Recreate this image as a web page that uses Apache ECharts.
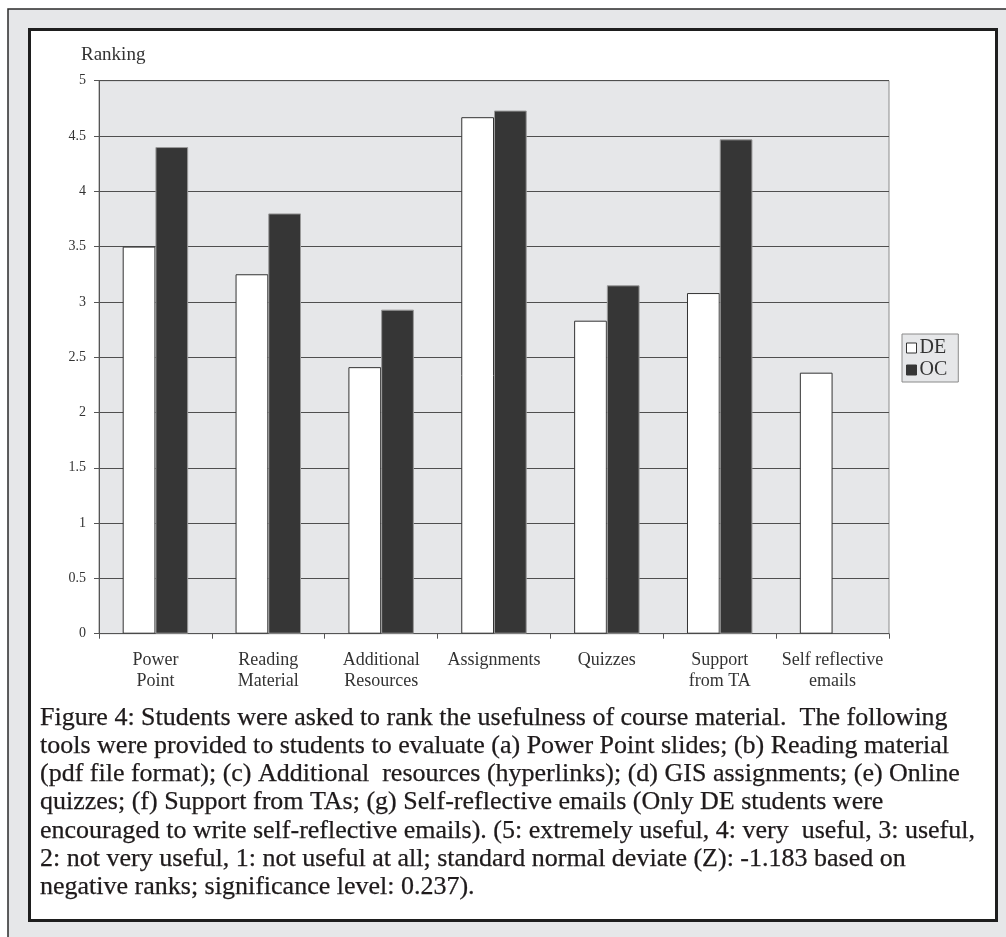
<!DOCTYPE html>
<html>
<head>
<meta charset="utf-8">
<script src="https://cdn.jsdelivr.net/npm/echarts@6/dist/echarts.min.js"></script>
<style>
html,body{margin:0;padding:0;background:#fff;}
#chart{width:1006px;height:937px;}
</style>
</head>
<body>
<div id="chart"></div>
<script>
// ---- data ----
var categories = ["Power\nPoint", "Reading\nMaterial", "Additional\nResources", "Assignments", "Quizzes", "Support\nfrom TA", "Self reflective\nemails"];
var seriesNames = ["DE", "OC"];
var deValues = [3.5, 3.25, 2.41, 4.67, 2.83, 3.08, 2.36];
var ocValues = [4.4, 3.8, 2.93, 4.73, 3.15, 4.47, null];
var yTicks = { min: 0, max: 5, interval: 0.5 };
var yAxisTitle = "Ranking";
var captionLines = [
  "Figure 4: Students were asked to rank the usefulness of course material.  The following",
  "tools were provided to students to evaluate (a) Power Point slides; (b) Reading material",
  "(pdf file format); (c) Additional  resources (hyperlinks); (d) GIS assignments; (e) Online",
  "quizzes; (f) Support from TAs; (g) Self-reflective emails (Only DE students were",
  "encouraged to write self-reflective emails). (5: extremely useful, 4: very  useful, 3: useful,",
  "2: not very useful, 1: not useful at all; standard normal deviate (Z): -1.183 based on",
  "negative ranks; significance level: 0.237)."
];

var FONT = "Liberation Serif";
var chart = echarts.init(document.getElementById('chart'), null, {renderer: 'canvas'});

var graphics = [
  { type: 'rect', z: -100, shape: { x: 8, y: 9, width: 1010, height: 940 },
    style: { fill: '#e6e7e9', stroke: '#2b2b2b', lineWidth: 1.5 } },
  { type: 'rect', z: -99, shape: { x: 29.5, y: 29.5, width: 967, height: 891 },
    style: { fill: '#ffffff', stroke: '#1e1e1e', lineWidth: 3 } }
];
captionLines.forEach(function (line, i) {
  graphics.push({
    type: 'text', z: 10, x: 40, y: 718 + i * 28.2,
    style: { text: line, fontFamily: FONT, fontSize: 26, fill: '#1e1a1b',
             stroke: '#1e1a1b', lineWidth: 0.25,
             verticalAlign: 'middle', align: 'left' }
  });
});

var option = {
  animation: false,
  backgroundColor: '#ffffff',
  title: {
    text: yAxisTitle, left: 81, top: 45, padding: 0,
    textStyle: { fontFamily: FONT, fontSize: 19, fontWeight: 'normal', color: '#333', lineHeight: 20 }
  },
  legend: {
    orient: 'vertical', left: 902, top: 334,
    padding: [4, 11, 2, 4], itemGap: 2, itemWidth: 10, itemHeight: 10,
    backgroundColor: '#e6e7e9', borderColor: '#8a8a8a', borderWidth: 1, borderRadius: 0,
    icon: 'rect',
    data: [
      { name: seriesNames[0], itemStyle: { color: '#ffffff', borderColor: '#333', borderWidth: 1 } },
      { name: seriesNames[1], itemStyle: { color: '#363636', borderColor: '#363636', borderWidth: 1 } }
    ],
    textStyle: { fontFamily: FONT, fontSize: 20, color: '#333', lineHeight: 20, padding: [0,0,0,-2] }
  },
  grid: {
    left: 99, right: 117, top: 80.7, bottom: 303.3,
    show: true, backgroundColor: '#e6e7e9', borderColor: '#8c8c8c', borderWidth: 1,
    containLabel: false
  },
  xAxis: {
    type: 'category', data: categories,
    axisLine: { show: true, lineStyle: { color: '#555', width: 1 } },
    axisTick: { show: true, alignWithLabel: false, length: 5, lineStyle: { color: '#555' } },
    axisLabel: { interval: 0, margin: 16, fontFamily: FONT, fontSize: 18, color: '#333', lineHeight: 21 },
    splitLine: { show: false }
  },
  yAxis: {
    type: 'value', min: yTicks.min, max: yTicks.max, interval: yTicks.interval,
    axisLine: { show: true, lineStyle: { color: '#555', width: 1 } },
    axisTick: { show: true, inside: false, length: 5, lineStyle: { color: '#555' } },
    axisLabel: { margin: 13, fontFamily: FONT, fontSize: 14, color: '#333' },
    splitLine: { show: true, lineStyle: { color: '#4f4f4f', width: 1 } }
  },
  series: [
    { name: seriesNames[0], type: 'bar', data: deValues, barGap: '0%', barCategoryGap: '42%',
      itemStyle: { color: '#ffffff', borderColor: '#333', borderWidth: 1 } },
    { name: seriesNames[1], type: 'bar', data: ocValues, barGap: '0%', barCategoryGap: '42%',
      itemStyle: { color: '#363636', borderColor: '#9a9a9a', borderWidth: 1 } }
  ],
  graphic: graphics
};
chart.setOption(option);
</script>
</body>
</html>
